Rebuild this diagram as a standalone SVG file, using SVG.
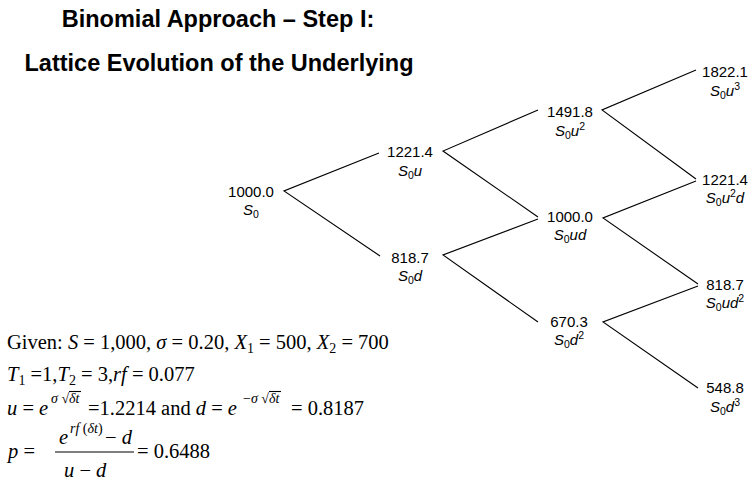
<svg xmlns="http://www.w3.org/2000/svg" width="748" height="485" viewBox="0 0 748 485">
<style>
.t{font-family:"Liberation Sans",Arial,sans-serif;font-weight:bold;font-size:23.5px;fill:#000;text-anchor:middle}
.v{font-family:"Liberation Sans",Arial,sans-serif;font-size:15px;fill:#000;text-anchor:middle}
.i{font-style:italic}
.b{font-size:10.5px}
.f{font-family:"Liberation Serif","Times New Roman",serif;font-size:20.5px;fill:#000}
.s{font-family:"Liberation Serif","Times New Roman",serif;font-size:14px;fill:#000}
.e{stroke:#000;stroke-width:1.1;fill:none}
</style>
<rect width="748" height="485" fill="#fff"/>
<g id="title">
<text class="t" x="218" y="27">Binomial Approach – Step I:</text>
<text class="t" x="219" y="71">Lattice Evolution of the Underlying</text>
</g>
<g id="connectors">
<polyline class="e" points="379,153 284,191 380,256"/>
<polyline class="e" points="538,110 443,151 538,217"/>
<polyline class="e" points="538,219 443,255 538,322"/>
<polyline class="e" points="696,70 602,110 696,179"/>
<polyline class="e" points="696,181 603,218 698,284"/>
<polyline class="e" points="698,286 603,322 698,388"/>
</g>
<g id="n0"><text class="v" x="251" y="197">1000.0</text><text class="v" x="251" y="215"><tspan class="i">S</tspan><tspan class="b" dy="3">0</tspan></text></g>
<g id="n1u"><text class="v" x="410" y="157">1221.4</text><text class="v" x="410" y="176"><tspan class="i">S</tspan><tspan class="b" dy="3">0</tspan><tspan class="i" dy="-3">u</tspan></text></g>
<g id="n1d"><text class="v" x="410" y="263">818.7</text><text class="v" x="410" y="281"><tspan class="i">S</tspan><tspan class="b" dy="3">0</tspan><tspan class="i" dy="-3">d</tspan></text></g>
<g id="n2uu"><text class="v" x="570" y="117">1491.8</text><text class="v" x="570" y="136"><tspan class="i">S</tspan><tspan class="b" dy="3">0</tspan><tspan class="i" dy="-3">u</tspan><tspan class="b" dy="-6">2</tspan></text></g>
<g id="n2ud"><text class="v" x="570" y="222">1000.0</text><text class="v" x="570" y="240"><tspan class="i">S</tspan><tspan class="b" dy="3">0</tspan><tspan class="i" dy="-3">ud</tspan></text></g>
<g id="n2dd"><text class="v" x="569" y="327">670.3</text><text class="v" x="569" y="345"><tspan class="i">S</tspan><tspan class="b" dy="3">0</tspan><tspan class="i" dy="-3">d</tspan><tspan class="b" dy="-6">2</tspan></text></g>
<g id="n3uuu"><text class="v" x="725" y="77">1822.1</text><text class="v" x="725" y="96"><tspan class="i">S</tspan><tspan class="b" dy="3">0</tspan><tspan class="i" dy="-3">u</tspan><tspan class="b" dy="-6">3</tspan></text></g>
<g id="n3uud"><text class="v" x="725" y="185">1221.4</text><text class="v" x="725" y="203"><tspan class="i">S</tspan><tspan class="b" dy="3">0</tspan><tspan class="i" dy="-3">u</tspan><tspan class="b" dy="-6">2</tspan><tspan class="i" dy="6">d</tspan></text></g>
<g id="n3udd"><text class="v" x="725" y="290">818.7</text><text class="v" x="725" y="308"><tspan class="i">S</tspan><tspan class="b" dy="3">0</tspan><tspan class="i" dy="-3">ud</tspan><tspan class="b" dy="-6">2</tspan></text></g>
<g id="n3ddd"><text class="v" x="725" y="393">548.8</text><text class="v" x="725" y="412"><tspan class="i">S</tspan><tspan class="b" dy="3">0</tspan><tspan class="i" dy="-3">d</tspan><tspan class="b" dy="-6">3</tspan></text></g>
<g id="formulas">
<text class="f" x="7" y="349">Given: <tspan class="i">S</tspan> = 1,000, <tspan class="i">σ</tspan> = 0.20, <tspan class="i">X</tspan><tspan font-size="14" dy="4">1</tspan><tspan dy="-4"> = 500, </tspan><tspan class="i">X</tspan><tspan font-size="14" dy="4">2</tspan><tspan dy="-4"> = 700</tspan></text>
<text class="f" x="7" y="381"><tspan class="i">T</tspan><tspan font-size="14" dy="4">1</tspan><tspan dy="-4"> =1,</tspan><tspan class="i">T</tspan><tspan font-size="14" dy="4">2</tspan><tspan dy="-4"> = 3,</tspan><tspan class="i">rf</tspan> = 0.077</text>
<text class="f" x="7" y="415"><tspan class="i">u</tspan> = <tspan class="i">e</tspan></text>
<text class="s" x="51" y="403"><tspan class="i">σ</tspan> √<tspan class="i">δt</tspan></text>
<line class="e" x1="69" y1="391.5" x2="81" y2="391.5" stroke-width="0.9"/>
<text class="f" x="88" y="415">=1.2214 and <tspan class="i">d</tspan> = <tspan class="i">e</tspan></text>
<text class="s" x="243" y="403">−<tspan class="i">σ</tspan> √<tspan class="i">δt</tspan></text>
<line class="e" x1="269" y1="391.5" x2="281" y2="391.5" stroke-width="0.9"/>
<text class="f" x="291" y="415">= 0.8187</text>
<text class="f" x="8" y="458"><tspan class="i">p</tspan> =</text>
<text class="f" x="59" y="444"><tspan class="i">e</tspan></text>
<text class="s" x="70" y="433"><tspan class="i">rf</tspan> (<tspan class="i">δt</tspan>)</text>
<text class="f" x="105" y="444">− <tspan class="i">d</tspan></text>
<line class="e" x1="55" y1="452" x2="134" y2="452"/>
<text class="f" x="64" y="477"><tspan class="i">u</tspan> − <tspan class="i">d</tspan></text>
<text class="f" x="137" y="458">= 0.6488</text>
</g>
</svg>
